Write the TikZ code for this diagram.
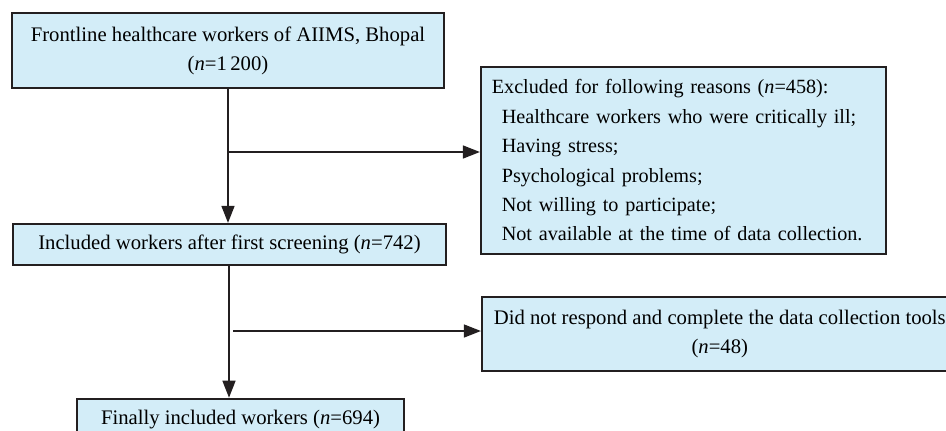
\documentclass[tikz,border=0pt]{standalone}
\usepackage{fontspec}
\setmainfont{Liberation Serif}
\usepackage{tikz}
\usetikzlibrary{arrows.meta,positioning}
\definecolor{flowfill}{HTML}{D3EDF8}
\definecolor{flowline}{HTML}{231F20}
\tikzstyle{block} = [rectangle, draw=flowline, line width=0.9pt, fill=flowfill,
    inner sep=0pt, align=center, font=\fontsize{10.35}{14.5}\selectfont]
\tikzstyle{arrow} = [-{Triangle[length=8.5pt,width=6.5pt]}, line width=0.7pt, flowline]

\begin{document}
\begin{tikzpicture}
\clip (0,0) rectangle (473pt,-215pt);
\node[block, minimum width=216pt, minimum height=37.5pt] (total) at (114pt,-25.25pt)
    {Frontline healthcare workers of AIIMS, Bhopal\\(\textit{n}=1\,200)};
\node[block, below=67pt of total, xshift=0.75pt, minimum width=216.5pt, minimum height=20.5pt] (screened)
    {Included workers after first screening (\textit{n}=742)};
\node[block, below=66pt of screened, xshift=5.5pt, minimum width=163.5pt, minimum height=21pt] (final)
    {Finally included workers (\textit{n}=694)};
\node[block, right=17.5pt of total.north east, anchor=north west, yshift=-27pt,
    align=left, text width=191.5pt, inner xsep=5.5pt, minimum height=93.5pt,
    font=\fontsize{10.1}{14.7}\selectfont] (excluded)
    {Excluded for following reasons (\textit{n}=458):\\
     \hspace*{5pt}Healthcare workers who were critically ill;\\
     \hspace*{5pt}Having stress;\\
     \hspace*{5pt}Psychological problems;\\
     \hspace*{5pt}Not willing to participate;\\
     \hspace*{5pt}Not available at the time of data collection.};
\node[block, right=17pt of screened, yshift=-44.75pt, minimum width=238pt, minimum height=37pt] (nonresp)
    {Did not respond and complete the data collection tools\\(\textit{n}=48)};

\coordinate (split1) at (114.5pt,-76pt);
\coordinate (split2) at (116.5pt,-165.5pt);

\draw[arrow] (total.south) -- (total.south |- screened.north);
\draw[arrow] (split1) -- (split1 -| excluded.west);
\draw[arrow] (split1 |- screened.south) -- (split1 |- final.north);
\draw[arrow] (split2) -- (split2 -| nonresp.west);
\end{tikzpicture}
\end{document}
